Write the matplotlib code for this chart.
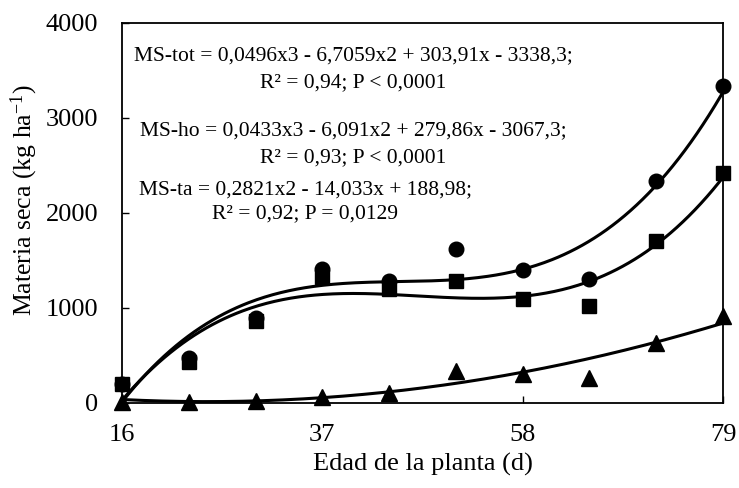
import numpy as np
import matplotlib
matplotlib.use("Agg")
import matplotlib.pyplot as plt

plt.rcParams['font.family'] = ['Liberation Serif', 'DejaVu Serif']
plt.rcParams['mathtext.default'] = 'regular'

# plant age (d)
edad = [16, 23, 30, 37, 44, 51, 58, 65, 72, 79]

# dry matter (kg/ha)
ms_tot = [200, 470, 890, 1410, 1280, 1620, 1400, 1305, 2340, 3340]
ms_ho = [200, 430, 860, 1330, 1200, 1280, 1090, 1025, 1705, 2420]
ms_ta = [10, 10, 20, 60, 100, 340, 300, 260, 630, 920]

# trend line coefficients printed on the chart
coef_tot = [0.0496, -6.7059, 303.91, -3338.3]
coef_ho = [0.0433, -6.091, 279.86, -3067.3]
coef_ta = [0.2821, -14.033, 188.98]

eq_tot = "MS-tot = 0,0496x3 - 6,7059x2 + 303,91x - 3338,3;\nR² = 0,94; P < 0,0001"
eq_ho = "MS-ho = 0,0433x3 - 6,091x2 + 279,86x - 3067,3;\nR² = 0,93; P < 0,0001"
eq_ta = "MS-ta = 0,2821x2 - 14,033x + 188,98;\nR² = 0,92; P = 0,0129"

x_ticks = [16, 37, 58, 79]
y_ticks = [0, 1000, 2000, 3000, 4000]

fig = plt.figure(figsize=(7.39, 4.88), dpi=100)
ax = fig.add_axes([0.1651, 0.1742, 0.8133, 0.7787])

xs = np.linspace(edad[0], edad[-1], 300)
for coef in (coef_tot, coef_ho, coef_ta):
    ax.plot(xs, np.polyval(coef, xs), color='black', lw=2.2, zorder=2)

ax.plot(edad, ms_tot, 'o', color='black', ms=10.5, zorder=3, clip_on=False)
ax.plot(edad, ms_ho, 's', color='black', ms=10, zorder=3, clip_on=False)
ax.plot(edad, ms_ta, '^', color='black', ms=11, zorder=3, clip_on=False)

ax.text(40.2, 3515, eq_tot, ha='center', va='center', fontsize=15.5,
        multialignment='center', linespacing=1.55)
ax.text(40.2, 2725, eq_ho, ha='center', va='center', fontsize=15.5,
        multialignment='center', linespacing=1.55)
ax.text(35.2, 2120, eq_ta, ha='center', va='center', fontsize=15.5,
        multialignment='center', linespacing=1.4)

ax.set_xlim(16, 79)
ax.set_ylim(0, 4000)
ax.set_xticks(x_ticks)
ax.set_yticks(y_ticks)
ax.tick_params(direction='in', length=5, width=1, labelsize=19)
ax.tick_params(axis='x', pad=15)
ax.tick_params(axis='y', pad=17)
for sp in ax.spines.values():
    sp.set_linewidth(1.3)

ax.set_xlabel("Edad de la planta (d)", fontsize=19)
ax.xaxis.set_label_coords(0.5, -0.162)
ax.xaxis.label.set_va('center')
ax.set_ylabel("Materia seca (kg ha$^{-1}$)", fontsize=18.5)
ax.yaxis.set_label_coords(-0.163, 0.535)
ax.yaxis.label.set_va('center')

fig.savefig("out.png", dpi=100)
